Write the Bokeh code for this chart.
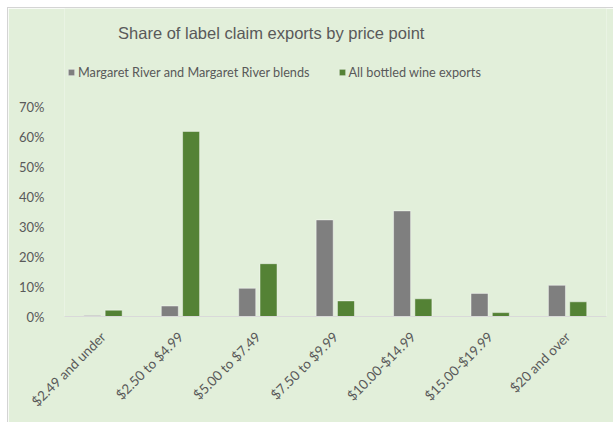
import math
from bokeh.plotting import figure
from bokeh.models import (FactorRange, Range1d, FixedTicker, NumeralTickFormatter,
                          Legend, LegendItem, ColumnDataSource, Label)
from bokeh.transform import dodge
from bokeh.embed import file_html
from bokeh.resources import INLINE

categories = ["$2.49 and under", "$2.50 to $4.99", "$5.00 to $7.49", "$7.50 to $9.99",
              "$10.00-$14.99", "$15.00-$19.99", "$20 and over"]
margaret = [0.003, 0.035, 0.094, 0.322, 0.352, 0.077, 0.104]
all_bottled = [0.021, 0.617, 0.176, 0.052, 0.059, 0.013, 0.049]
series_names = ["Margaret River and Margaret River blends", "All bottled wine exports"]
y_ticks = [0, 0.1, 0.2, 0.3, 0.4, 0.5, 0.6, 0.7]
title_text = "Share of label claim exports by price point"

src = ColumnDataSource(dict(cat=categories, mr=margaret, ab=all_bottled))

BG = "#E2EFDA"
TXT = "#595959"

p = figure(width=606, height=415, x_range=FactorRange(*categories, range_padding=0),
           y_range=Range1d(0, 308 / 300), output_backend="svg", toolbar_location=None,
           title=None,
           min_border_left=56, min_border_right=8, min_border_bottom=107, min_border_top=0)
p.margin = (7, 0, 0, 7)
p.styles = {"border-top": "1px solid #D4D4D4", "border-left": "1px solid #D4D4D4"}
p.background_fill_color = BG
p.border_fill_color = BG
p.outline_line_color = None

r1 = p.vbar(x=dodge("cat", -0.14, range=p.x_range), top="mr", width=0.22, source=src,
            fill_color="#7F7F7F", line_color="white", line_alpha=0.45, line_width=1)
r2 = p.vbar(x=dodge("cat", 0.135, range=p.x_range), top="ab", width=0.22, source=src,
            fill_color="#548235", line_color="white", line_alpha=0.45, line_width=1)

title = Label(x=2.67, y=0.945, text=title_text, text_align="center",
              text_baseline="alphabetic", text_font="Liberation Sans",
              text_font_size="16.5px", text_color=TXT)
p.add_layout(title)

legend = Legend(items=[LegendItem(label=series_names[0], renderers=[r1]),
                       LegendItem(label=series_names[1], renderers=[r2])],
                orientation="horizontal", location=(3, 236))
legend.background_fill_alpha = 0
legend.border_line_color = None
legend.label_text_font = "Lato"
legend.label_text_font_size = "12.7px"
legend.label_text_color = TXT
legend.glyph_width = 8
legend.glyph_height = 8
legend.label_standoff = 3
legend.spacing = 28
legend.margin = 0
legend.padding = 0
p.add_layout(legend, "center")

p.xgrid.grid_line_color = None
p.ygrid.grid_line_color = None

p.yaxis.ticker = FixedTicker(ticks=y_ticks)
p.yaxis.formatter = NumeralTickFormatter(format="0%")
p.yaxis.axis_line_color = None
p.yaxis.major_tick_line_color = None
p.yaxis.minor_tick_line_color = None
p.yaxis.major_label_text_font = "Lato"
p.yaxis.major_label_text_font_size = "13px"
p.yaxis.major_label_text_color = TXT
p.yaxis.major_label_standoff = 14

p.xaxis.axis_line_color = "#D9D9D9"
p.xaxis.axis_line_width = 1
p.xaxis.major_tick_line_color = None
p.xaxis.minor_tick_line_color = None
p.xaxis.major_label_orientation = math.pi / 4
p.xaxis.major_label_text_font = "Lato"
p.xaxis.major_label_text_font_size = "13.5px"
p.xaxis.major_label_text_color = TXT
p.xaxis.major_label_standoff = 12

open("out.html", "w").write(file_html(p, INLINE))
